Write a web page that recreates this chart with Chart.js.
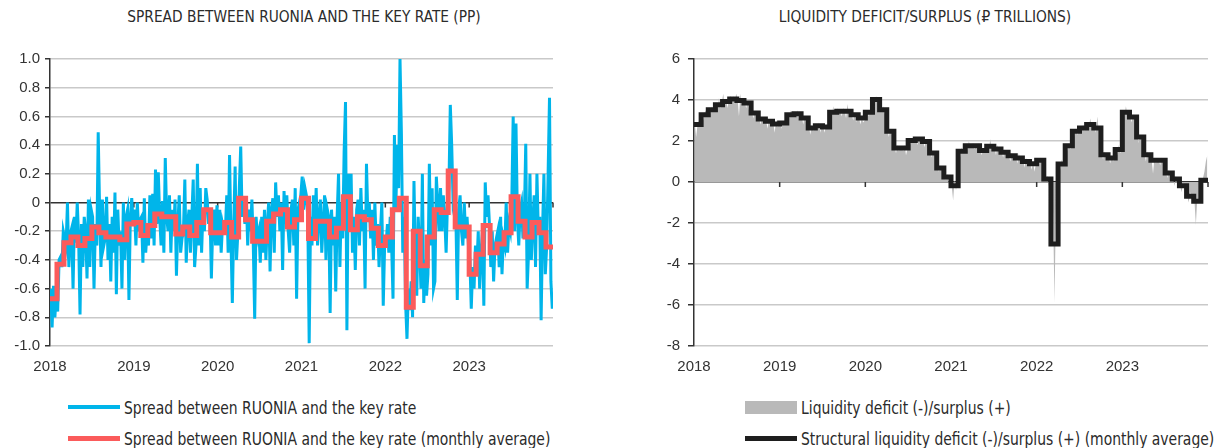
<!DOCTYPE html>
<html>
<head>
<meta charset="utf-8">
<script src="https://cdn.jsdelivr.net/npm/chart.js@4.4.0/dist/chart.umd.min.js"></script>
<style>
  body { margin: 0; width: 1220px; height: 448px; background: #fff; position: relative; overflow: hidden;
         font-family: "Liberation Sans Narrow", "DejaVu Sans Condensed", sans-serif; color: #2b2b2b; }
  .title { position: absolute; top: 8px; font-size: 15.3px; white-space: nowrap; transform: translateX(-50%); }
  canvas { position: absolute; top: 0; }
  .item { position: absolute; display: flex; align-items: center; font-size: 18px; white-space: nowrap; height: 20px; }
  .swatch { width: 52px; margin-right: 4px; flex: none; }
  .item span.txt { display: inline-block; transform: scaleX(0.86); transform-origin: left center; }
</style>
</head>
<body>
<div class="title" style="left:304px">SPREAD BETWEEN RUONIA AND THE KEY RATE (PP)</div>
<div class="title" style="left:925px">LIQUIDITY DEFICIT/SURPLUS (₽ TRILLIONS)</div>
<canvas id="spreadChart" width="565" height="380" style="left:0"></canvas>
<canvas id="liquidityChart" width="590" height="380" style="left:630px"></canvas>

<div class="item" style="left:68px; top:397px"><span class="swatch" style="height:4px; background:#00b5ea"></span><span class="txt">Spread between RUONIA and the key rate</span></div>
<div class="item" style="left:68px; top:428px"><span class="swatch" style="height:5px; background:#fb5b5b"></span><span class="txt">Spread between RUONIA and the key rate (monthly average)</span></div>
<div class="item" style="left:745px; top:397px"><span class="swatch" style="height:13px; background:#b9b9b9"></span><span class="txt">Liquidity deficit (-)/surplus (+)</span></div>
<div class="item" style="left:745px; top:428px"><span class="swatch" style="height:5px; background:#1e1e1e"></span><span class="txt">Structural liquidity deficit (-)/surplus (+) (monthly average)</span></div>

<script>
const years = [2018, 2019, 2020, 2021, 2022, 2023];

// spread RUONIA - key rate, pp (5 readings per month)
const spread2018 = [
  -0.60, -0.87, -0.58, -0.80, -0.62,  -0.76, -0.40, -0.38, -0.45, -0.20,
  -0.25, -0.30, 0.00, -0.45, -0.22,   -0.18, -0.60, -0.10, -0.28, 0.00,
  -0.25, -0.78, -0.15, -0.45, -0.10,  -0.20, -0.53, 0.02, -0.45, -0.05,
  -0.10, -0.60, -0.15, -0.30, 0.49,   -0.05, -0.45, 0.02, -0.30, -0.25,
  0.04, -0.40, -0.15, -0.55, -0.10,   -0.35, 0.07, -0.64, -0.05, -0.30,
  -0.20, -0.60, 0.00, -0.40, -0.10,   -0.05, -0.68, -0.10, 0.03, -0.15];
const spread2019 = [
  -0.05, -0.30, 0.00, -0.20, -0.12,   -0.10, -0.42, 0.03, -0.35, -0.20,
  -0.30, 0.05, -0.25, 0.06, -0.30,    0.23, -0.15, 0.21, -0.10, -0.30,
  0.01, -0.35, 0.31, -0.10, -0.20,    0.05, -0.35, -0.05, -0.20, 0.02,
  -0.51, -0.15, 0.05, -0.35, -0.25,   -0.20, 0.16, -0.42, -0.15, -0.05,
  -0.35, -0.10, 0.16, -0.45, -0.30,   0.27, -0.30, 0.10, -0.35, -0.05,
  -0.20, 0.10, 0.02, -0.15, -0.05,    -0.53, -0.15, -0.05, -0.30, -0.02];
const spread2020 = [
  -0.30, -0.05, -0.35, -0.15, -0.20,  -0.20, 0.05, -0.35, 0.33, -0.25,
  -0.70, -0.15, 0.25, -0.40, -0.20,   0.10, 0.39, -0.10, 0.00, -0.15,
  0.03, -0.30, -0.05, -0.20, 0.02,    -0.30, -0.81, -0.10, -0.25, -0.20,
  -0.42, -0.10, -0.35, -0.05, -0.40,  -0.15, 0.00, -0.48, -0.05, 0.03,
  -0.35, 0.14, -0.10, 0.05, -0.20,    0.00, -0.47, 0.08, -0.15, 0.05,
  -0.20, -0.35, -0.05, 0.02, -0.30,   0.10, -0.67, -0.05, 0.00, 0.05];
const spread2021 = [
  0.18, -0.05, 0.10, 0.05, -0.10,     -0.98, -0.10, -0.30, 0.05, -0.20,
  0.10, -0.30, -0.10, 0.02, -0.35,    -0.15, 0.05, -0.40, -0.05, -0.10,
  -0.77, -0.05, -0.30, -0.10, -0.62,  -0.10, 0.20, -0.45, 0.00, -0.25,
  0.35, 0.70, -0.89, 0.20, -0.15,     0.20, -0.35, -0.10, -0.47, -0.05,
  0.02, -0.30, 0.10, -0.20, -0.05,    -0.60, 0.27, -0.10, 0.00, -0.25,
  -0.05, -0.40, 0.00, -0.30, -0.15,   -0.45, -0.20, 0.00, -0.72, -0.30];
const spread2022 = [
  -0.30, -0.15, -0.35, -0.10, -0.30,  -0.67, 0.47, -0.05, 0.40, 0.10,
  1.00, 0.48, -0.35, -0.10, -0.70,    -0.95, -0.60, -0.75, -0.55, -0.80,
  0.15, -0.40, -0.65, -0.10, -0.30,   -0.60, 0.20, -0.70, -0.40, -0.65,
  -0.50, 0.27, -0.30, 0.10, -0.60,    -0.55, 0.18, 0.00, -0.20, 0.10,
  -0.20, 0.05, -0.10, -0.35, 0.00,    0.10, 0.68, 0.40, 0.00, 0.05,
  -0.10, -0.68, -0.05, 0.05, -0.20,   -0.30, 0.00, -0.25, -0.10, -0.30];
const spread2023 = [
  -0.40, -0.74, -0.45, -0.60, -0.30,  -0.45, -0.20, -0.60, -0.35, -0.20,
  -0.72, 0.14, -0.10, 0.05, -0.15,    -0.45, -0.20, -0.55, -0.30, -0.25,
  -0.20, -0.45, -0.10, -0.50, -0.25,  -0.30, 0.00, -0.35, -0.15, -0.20,
  0.00, 0.60, -0.20, 0.55, -0.10,     -0.30, -0.05, 0.00, -0.25, -0.10,
  0.41, -0.60, -0.35, 0.20, -0.40,    -0.15, 0.05, -0.45, 0.20, -0.20,
  -0.10, -0.82, -0.20, 0.20, -0.50,   -0.30, 0.20, 0.73, -0.55, -0.74];

// monthly average spread, Jan 2018 .. Dec 2023
const spreadMonthly = [
  -0.67, -0.43, -0.28, -0.24, -0.30, -0.25, -0.17, -0.21, -0.24, -0.24, -0.26, -0.15,
  -0.14, -0.23, -0.16, -0.08, -0.10, -0.10, -0.22, -0.17, -0.23, -0.14, -0.05, -0.21,
  -0.21, -0.14, -0.24, 0.03, -0.12, -0.27, -0.27, -0.13, -0.08, -0.05, -0.17, -0.12,
  0.03, -0.25, -0.13, -0.13, -0.24, -0.18, 0.04, -0.19, -0.10, -0.12, -0.18, -0.30,
  -0.24, -0.05, 0.03, -0.73, -0.20, -0.44, -0.24, -0.05, -0.07, 0.22, -0.17, -0.17,
  -0.50, -0.36, -0.16, -0.35, -0.29, -0.21, 0.04, -0.13, -0.24, -0.14, -0.21, -0.31];

// liquidity deficit(-)/surplus(+), RUB trn (5 readings per month)
const liquidity2018 = [
  2.9, 2.2, 2.8, 3.0, 3.1,  3.3, 3.0, 3.4, 3.5, 3.2,  3.6, 3.3, 3.7, 3.4, 3.8,
  3.9, 3.5, 4.1, 3.6, 3.9,  4.3, 3.7, 4.0, 3.6, 4.1,  4.2, 3.9, 4.2, 3.8, 4.3,
  4.1, 3.2, 4.3, 3.8, 4.0,  4.0, 3.6, 3.9, 3.5, 3.7,  3.5, 3.1, 3.4, 3.2, 3.3,
  3.2, 2.8, 3.1, 2.9, 3.0,  3.0, 2.6, 3.1, 2.8, 2.9,  2.9, 2.4, 3.0, 2.7, 2.8];
const liquidity2019 = [
  2.9, 2.6, 3.0, 2.8, 3.1,  3.3, 3.1, 3.5, 3.2, 3.3,  3.4, 3.2, 3.5, 3.0, 3.3,
  3.2, 2.8, 3.2, 2.9, 3.0,  2.7, 2.3, 2.8, 2.5, 2.6,  2.8, 2.5, 2.9, 2.4, 2.8,
  2.7, 2.4, 2.8, 2.6, 2.9,  3.5, 3.2, 3.7, 3.3, 3.4,  3.6, 3.3, 3.5, 3.2, 3.6,
  3.5, 3.1, 3.8, 3.3, 3.5,  3.3, 3.0, 3.4, 2.9, 3.2,  3.2, 2.8, 3.1, 2.9, 3.0];
const liquidity2020 = [
  3.3, 3.5, 3.2, 3.6, 3.4,  4.0, 3.8, 4.2, 3.9, 4.1,  3.6, 3.4, 3.7, 3.3, 3.5,
  2.5, 2.2, 2.6, 2.3, 2.4,  1.7, 1.4, 1.8, 1.5, 1.7,  1.7, 1.5, 1.8, 1.3, 1.6,
  2.1, 1.8, 2.1, 1.9, 2.0,  2.1, 1.8, 2.2, 2.0, 2.1,  2.0, 1.7, 2.1, 1.8, 1.9,
  1.5, 1.2, 1.5, 1.3, 1.4,  0.8, 0.5, 0.7, 0.6, 0.7,  0.3, 0.1, 0.4, -0.1, 0.2];
const liquidity2021 = [
  -0.2, -0.9, 0.1, -0.4, 0.0,  1.5, 1.2, 1.7, 1.4, 1.6,  1.8, 1.5, 2.0, 1.7, 1.8,
  1.9, 1.6, 1.8, 1.5, 1.9,  1.6, 1.3, 1.6, 1.4, 1.7,  1.8, 1.5, 2.1, 1.6, 1.8,
  1.7, 1.3, 1.8, 1.5, 1.7,  1.5, 1.2, 1.6, 1.3, 1.5,  1.3, 1.0, 1.4, 1.2, 1.3,
  1.2, 0.9, 1.4, 1.1, 1.2,  1.1, 0.7, 1.2, 0.9, 1.0,  0.9, 0.6, 1.0, 0.5, 0.9];
const liquidity2022 = [
  1.1, 0.8, 1.2, 0.9, 1.0,  0.4, 0.1, 0.3, -0.2, 0.0,  -0.8, -1.5, -5.9, -1.2, -0.3,
  0.9, 0.6, 1.1, 0.8, 1.0,  1.8, 1.5, 1.9, 1.6, 1.8,  2.5, 2.2, 2.6, 2.3, 2.5,
  2.7, 2.4, 2.8, 2.5, 2.7,  2.8, 2.6, 3.1, 2.7, 2.9,  2.7, 2.4, 3.2, 2.5, 2.6,
  1.4, 1.1, 1.5, 1.2, 1.3,  1.2, 0.9, 1.3, 1.0, 1.2,  1.6, 1.3, 1.8, 1.4, 1.6];
const liquidity2023 = [
  3.5, 3.2, 3.7, 3.3, 3.4,  3.2, 2.9, 3.3, 3.0, 3.2,  2.3, 1.9, 2.3, 2.0, 2.2,
  1.4, 1.0, 1.5, 1.2, 1.3,  1.1, 0.4, 1.2, 0.9, 1.1,  1.1, 0.8, 1.2, 0.9, 1.0,
  0.5, 0.2, 0.6, 0.3, 0.4,  0.2, -0.2, 0.3, 0.0, 0.1,  -0.2, -0.5, 0.0, -0.3, -0.1,
  -0.7, -1.0, -0.5, -0.8, -0.6,  -0.9, -2.1, -0.8, -1.0, -0.8,  -0.3, 0.2, 0.5, 1.0, 1.3];

// structural liquidity, monthly average, Jan 2018 .. Dec 2023
const structuralMonthly = [
  2.80, 3.28, 3.53, 3.77, 3.93, 4.05, 3.98, 3.85, 3.37, 3.07, 2.96, 2.83,
  2.88, 3.28, 3.33, 3.12, 2.63, 2.75, 2.68, 3.40, 3.45, 3.45, 3.28, 3.12,
  3.40, 4.02, 3.53, 2.47, 1.66, 1.66, 2.03, 2.10, 1.98, 1.41, 0.68, 0.24,
  -0.18, 1.50, 1.77, 1.77, 1.54, 1.74, 1.61, 1.45, 1.28, 1.17, 1.00, 0.89,
  1.06, 0.15, -3.02, 0.88, 1.77, 2.47, 2.63, 2.80, 2.63, 1.33, 1.17, 1.58,
  3.40, 3.17, 2.20, 1.33, 1.06, 1.06, 0.44, 0.15, -0.18, -0.70, -0.94, 0.08];

const perMonth = 5;
function dailyPoints(yearArrays) {
  const pts = [];
  yearArrays.forEach((vals, yi) => {
    vals.forEach((v, i) => {
      const m = Math.floor(i / perMonth), k = i % perMonth;
      pts.push({ x: years[yi] + (m + (k + 0.5) / perMonth) / 12, y: v });
    });
  });
  return pts;
}
function monthlySteps(vals) {
  const pts = vals.map((v, i) => ({ x: years[0] + i / 12, y: v }));
  pts.push({ x: years[0] + vals.length / 12, y: vals[vals.length - 1] });
  return pts;
}

const tickFont = { family: '"Liberation Sans", Arial, sans-serif', size: 15 };
const axisDark = '#333333';
const gridLight = '#c9c9c9';

// small year ticks hanging below the zero line
const zeroTicks = {
  id: 'zeroTicks',
  beforeDatasetsDraw(chart) {
    const { ctx, scales: { x, y } } = chart;
    const y0 = y.getPixelForValue(0);
    ctx.save();
    ctx.strokeStyle = axisDark;
    ctx.lineWidth = 1.5;
    x.ticks.forEach(t => {
      if (t.value === x.min) return;
      const px = x.getPixelForValue(t.value);
      ctx.beginPath();
      ctx.moveTo(px, y0);
      ctx.lineTo(px, y0 + 5);
      ctx.stroke();
    });
    ctx.restore();
  }
};

function xScale() {
  return {
    type: 'linear', min: 2018, max: 2024,
    ticks: { stepSize: 1, autoSkip: false, maxRotation: 0, padding: 12, font: tickFont, color: axisDark,
             callback: v => (v < 2024 ? String(v) : '') },
    grid: { display: false, drawTicks: false },
    border: { display: false },
    afterFit: s => { s.height = 34; }
  };
}
function yScale(min, max, step, width, fmt, pad, tl) {
  return {
    min, max,
    ticks: { stepSize: step, padding: pad, font: tickFont, color: axisDark, callback: fmt },
    grid: { color: c => (Math.abs(c.tick.value) < 1e-9 ? axisDark : gridLight), lineWidth: 1.5,
            tickColor: axisDark, tickLength: tl },
    border: { color: axisDark, width: 1.5 },
    afterFit: s => { s.width = width; }
  };
}

new Chart(document.getElementById('spreadChart'), {
  type: 'line',
  data: {
    datasets: [{
      label: 'Spread between RUONIA and the key rate (monthly average)',
      data: monthlySteps(spreadMonthly),
      borderColor: '#fb5b5b', borderWidth: 5, stepped: 'before', pointRadius: 0, order: 0
    }, {
      label: 'Spread between RUONIA and the key rate',
      data: dailyPoints([spread2018, spread2019, spread2020, spread2021, spread2022, spread2023]),
      borderColor: '#00b5ea', borderWidth: 3, pointRadius: 0, tension: 0, order: 1
    }]
  },
  options: {
    responsive: false, animation: false,
    layout: { padding: { top: 59, right: 4 } },
    plugins: { legend: { display: false }, tooltip: { enabled: false } },
    scales: {
      x: xScale(),
      y: yScale(-1, 1, 0.2, 50, v => (Math.abs(v) < 1e-9 ? '0' : v.toFixed(1)), 5, 5)
    }
  },
  plugins: [zeroTicks]
});

new Chart(document.getElementById('liquidityChart'), {
  type: 'line',
  data: {
    datasets: [{
      label: 'Structural liquidity deficit (-)/surplus (+) (monthly average)',
      data: monthlySteps(structuralMonthly),
      borderColor: '#1e1e1e', borderWidth: 5, stepped: 'before', pointRadius: 0, order: 0
    }, {
      label: 'Liquidity deficit (-)/surplus (+)',
      data: dailyPoints([liquidity2018, liquidity2019, liquidity2020, liquidity2021, liquidity2022, liquidity2023]),
      borderWidth: 0, backgroundColor: '#b9b9b9', fill: 'origin', pointRadius: 0, tension: 0, order: 1
    }]
  },
  options: {
    responsive: false, animation: false,
    layout: { padding: { top: 59 } },
    plugins: { legend: { display: false }, tooltip: { enabled: false } },
    scales: {
      x: xScale(),
      y: yScale(-8, 6, 2, 64, v => String(v), 8, 6)
    }
  },
  plugins: [zeroTicks]
});
</script>
</body>
</html>
